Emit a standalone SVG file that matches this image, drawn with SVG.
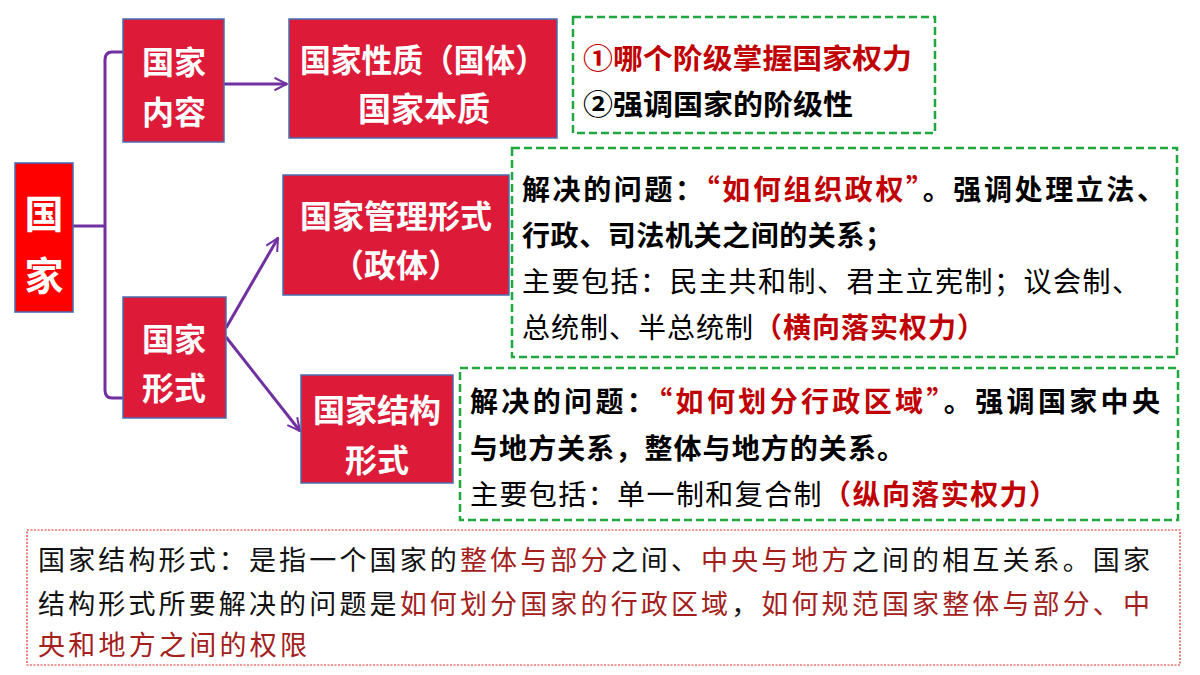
<svg xmlns="http://www.w3.org/2000/svg" width="1200" height="675" viewBox="0 0 1200 675">
<style>
.box{fill:#DD1A38;stroke:#4A6DB0;stroke-width:1.5}
.root{fill:#FF0000;stroke:#3F6CB5;stroke-width:1.5}
.nt{font-family:"Noto Sans CJK SC","Noto Sans",sans-serif;font-weight:700;fill:#FFFFFF;text-anchor:middle}
.gbox{fill:none;stroke:#1FA83E;stroke-width:2.5;stroke-dasharray:8 4}
.rbox{fill:none;stroke:#E02828;stroke-width:1.2;stroke-dasharray:2 1.5}
.t{font-family:"Noto Sans CJK SC","Noto Sans",sans-serif;font-size:28px;fill:#000000}
.b{font-weight:700}
.red{fill:#C00000;font-weight:700}
.bt{font-family:"Noto Sans CJK SC","Noto Sans",sans-serif;font-size:27px;fill:#111111}
.br{fill:#A3201C}
.conn{fill:none;stroke:#7030A0;stroke-width:3}
</style>
<defs>
<marker id="arr" viewBox="0 0 12 12" refX="11" refY="6" markerWidth="5" markerHeight="5" orient="auto" markerUnits="strokeWidth">
<path d="M1,1 L11,6 L1,11" fill="none" stroke="#7030A0" stroke-width="1.6"/>
</marker>
</defs>
<rect width="1200" height="675" fill="#FFFFFF"/>

<g id="connectors">
<path class="conn" d="M123,52 H112 Q105,52 105,60 V390 Q105,398 112,398 H123"/>
<path class="conn" d="M73,226 H105"/>
<path class="conn" d="M224,84 H287" marker-end="url(#arr)"/>
<path class="conn" d="M226,328 L278,238" marker-end="url(#arr)"/>
<path class="conn" d="M226,337 L300,431" marker-end="url(#arr)"/>
</g>

<g id="node-guojia">
<rect class="root" x="15" y="163" width="58" height="149"/>
<text class="nt" x="44" y="228" font-size="39">国</text>
<text class="nt" x="44" y="290" font-size="39">家</text>
</g>

<g id="node-neirong">
<rect class="box" x="123" y="19" width="101" height="123"/>
<text class="nt" x="174" y="74" font-size="32">国家</text>
<text class="nt" x="174" y="124" font-size="32">内容</text>
</g>

<g id="node-xingzhi">
<rect class="box" x="289" y="19" width="268" height="119"/>
<text class="nt" x="423" y="72" font-size="32" textLength="246" lengthAdjust="spacingAndGlyphs">国家性质（国体）</text>
<text class="nt" x="424" y="121" font-size="33">国家本质</text>
</g>

<g id="node-xingshi">
<rect class="box" x="123" y="297" width="103" height="121"/>
<text class="nt" x="174" y="351" font-size="32">国家</text>
<text class="nt" x="174" y="400" font-size="32">形式</text>
</g>

<g id="node-guanli">
<rect class="box" x="283" y="175" width="226" height="120"/>
<text class="nt" x="396" y="228" font-size="32">国家管理形式</text>
<text class="nt" x="396" y="277" font-size="32">（政体）</text>
</g>

<g id="node-jiegou">
<rect class="box" x="301" y="375" width="152" height="108"/>
<text class="nt" x="377" y="422" font-size="32">国家结构</text>
<text class="nt" x="377" y="472" font-size="32">形式</text>
</g>

<g id="note-guoti">
<rect class="gbox" x="573" y="17" width="362" height="116"/>
<text class="t red" x="583" y="69" font-size="29" textLength="329" lengthAdjust="spacingAndGlyphs">①哪个阶级掌握国家权力</text>
<text class="t b" x="583" y="115" font-size="29" textLength="270" lengthAdjust="spacingAndGlyphs">②强调国家的阶级性</text>
</g>

<g id="note-zhengti">
<rect class="gbox" x="512" y="148" width="665" height="209"/>
<text class="t b" x="522" y="200" textLength="643" lengthAdjust="spacing">解决的问题：<tspan class="red">“如何组织政权”</tspan>。强调处理立法、</text>
<text class="t b" x="522" y="246" textLength="371" lengthAdjust="spacing">行政、司法机关之间的关系；</text>
<text class="t" x="522" y="292" textLength="618" lengthAdjust="spacing">主要包括：民主共和制、君主立宪制；议会制、</text>
<text class="t" x="522" y="338" textLength="463" lengthAdjust="spacing">总统制、半总统制<tspan class="red">（横向落实权力）</tspan></text>
</g>

<g id="note-jiegou">
<rect class="gbox" x="460" y="368" width="718" height="152"/>
<text class="t b" x="470" y="412" textLength="690" lengthAdjust="spacing">解决的问题：<tspan class="red">“如何划分行政区域”</tspan>。强调国家中央</text>
<text class="t b" x="470" y="459" textLength="435" lengthAdjust="spacing">与地方关系，整体与地方的关系。</text>
<text class="t" x="470" y="505" textLength="587" lengthAdjust="spacing">主要包括：单一制和复合制<tspan class="red">（纵向落实权力）</tspan></text>
</g>

<g id="note-definition">
<rect class="rbox" x="27" y="530" width="1153" height="135"/>
<text class="bt" x="38" y="570" textLength="1112" lengthAdjust="spacing">国家结构形式：是指一个国家的<tspan class="br">整体与部分</tspan>之间、<tspan class="br">中央与地方</tspan>之间的相互关系。国家</text>
<text class="bt" x="38" y="614" textLength="1112" lengthAdjust="spacing">结构形式所要解决的问题是<tspan class="br">如何划分国家的行政区域</tspan>，<tspan class="br">如何规范国家整体与部分、中</tspan></text>
<text class="bt br" x="38" y="655" textLength="269" lengthAdjust="spacing">央和地方之间的权限</text>
</g>
</svg>
